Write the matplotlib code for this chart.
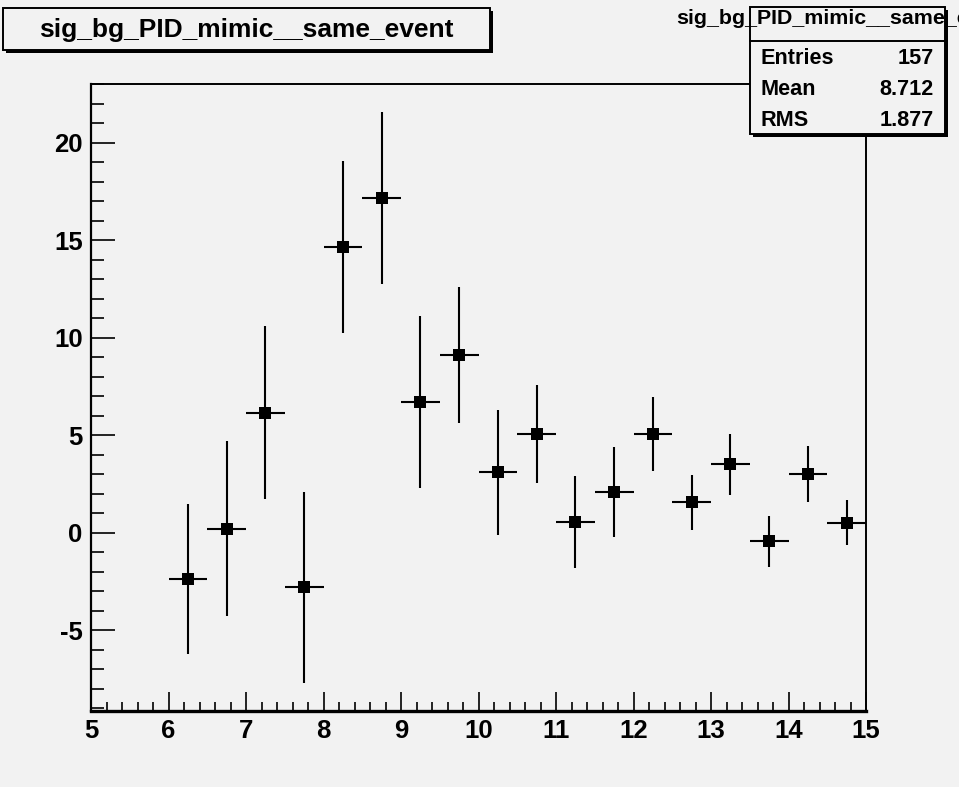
import numpy as np
import matplotlib
matplotlib.use("Agg")   # no display required
import matplotlib.pyplot as plt
from matplotlib import font_manager
from matplotlib.patches import Rectangle
from matplotlib.ticker import MultipleLocator

plt.rcParams["axes.unicode_minus"] = False

# ─────────────────────────────────────────────
# Data
# ─────────────────────────────────────────────
hist_name = "sig_bg_PID_mimic__same_event"

bin_centers = [6.25, 6.75, 7.25, 7.75, 8.25, 8.75, 9.25, 9.75, 10.25,
               10.75, 11.25, 11.75, 12.25, 12.75, 13.25, 13.75, 14.25, 14.75]
bin_half_width = [0.25] * len(bin_centers)
values = [-2.4, 0.2, 6.15, -2.8, 14.65, 17.15, 6.7, 9.1, 3.1,
          5.05, 0.53, 2.07, 5.05, 1.55, 3.5, -0.45, 3.0, 0.5]
errors = [3.85, 4.5, 4.45, 4.9, 4.4, 4.4, 4.4, 3.5, 3.2,
          2.5, 2.35, 2.3, 1.9, 1.4, 1.55, 1.3, 1.45, 1.15]

stats_labels = ["Entries", "Mean", "RMS"]
stats_values = ["157", "8.712", "1.877"]

x_ticks = list(range(5, 16))
y_ticks = [-5, 0, 5, 10, 15, 20]
x_range = (5, 15)
y_range = (-9.15, 23.0)

# ─────────────────────────────────────────────
# Figure
# ─────────────────────────────────────────────
W, H, DPI = 959, 787, 100
BG = "#f2f2f2"
FONT = "Liberation Sans"

# tall, narrow digits on the axes: use the narrow cut when it is there
try:
    font_manager.findfont(font_manager.FontProperties(family="Liberation Sans Narrow",
                                                      weight="bold"),
                          fallback_to_default=False)
    TICK_FONT, TICK_SIZE = "Liberation Sans Narrow", 20.5
except Exception:
    TICK_FONT, TICK_SIZE = FONT, 18.5


def fx(px):
    return px / W


def fy(py):
    return 1 - py / H


def box(fig, left, top, right, bottom, shadow=3):
    """ROOT-style pave: black drop shadow + light box with black border."""
    fig.add_artist(Rectangle((fx(left + shadow), fy(bottom + shadow)),
                             fx(right - left), (bottom - top) / H,
                             transform=fig.transFigure, facecolor="black",
                             edgecolor="none", zorder=5))
    fig.add_artist(Rectangle((fx(left), fy(bottom)),
                             fx(right - left), (bottom - top) / H,
                             transform=fig.transFigure, facecolor=BG,
                             edgecolor="black", linewidth=1.4, zorder=6))


fig = plt.figure(figsize=(W / DPI, H / DPI), dpi=DPI)
fig.patch.set_facecolor(BG)

ax = fig.add_axes([fx(91), fy(711), fx(866 - 91), (711 - 84) / H])
ax.set_facecolor(BG)

ax.errorbar(bin_centers, values, xerr=bin_half_width, yerr=errors,
            fmt="s", color="black", markersize=9.3, elinewidth=1.5,
            capsize=0, markeredgewidth=0)

ax.set_xlim(*x_range)
ax.set_ylim(*y_range)

ax.set_xticks(x_ticks)
ax.set_yticks(y_ticks)
ax.xaxis.set_minor_locator(MultipleLocator(0.2))
ax.yaxis.set_minor_locator(MultipleLocator(1))
ax.tick_params(axis="x", which="major", direction="in", length=14, width=1.2,
               pad=6, top=False)
ax.tick_params(axis="x", which="minor", direction="in", length=6.5, width=1.2,
               top=False)
ax.tick_params(axis="y", which="major", direction="in", length=17, width=1.2,
               pad=6, right=False)
ax.tick_params(axis="y", which="minor", direction="in", length=9, width=1.2,
               right=False)
for lab in ax.get_xticklabels() + ax.get_yticklabels():
    lab.set_fontfamily(TICK_FONT)
    lab.set_fontweight("bold")
    lab.set_fontsize(TICK_SIZE)

ax.spines["bottom"].set_linewidth(2.4)
ax.spines["left"].set_linewidth(1.6)
ax.spines["top"].set_linewidth(1.4)
ax.spines["right"].set_linewidth(1.4)

# title pave
box(fig, 3, 8, 490, 50)
fig.text(fx(246.5), fy(30), hist_name, ha="center", va="center",
         fontsize=19, fontweight="bold", family=FONT, zorder=7)

# stats pave (its header runs off the right edge, as in the original)
box(fig, 750, 7, 945, 134)
fig.add_artist(plt.Line2D([fx(750), fx(945)], [fy(41), fy(41)],
                          transform=fig.transFigure, color="black",
                          linewidth=1.4, zorder=7))
fig.text(fx(676), fy(19), hist_name, ha="left", va="center",
         fontsize=15.4, fontweight="bold", family=FONT, zorder=7)
for i, (lab, val) in enumerate(zip(stats_labels, stats_values)):
    yy = fy(59 + i * 30.5)
    fig.text(fx(760), yy, lab, ha="left", va="center", fontsize=15.6,
             fontweight="bold", family=FONT, zorder=7)
    fig.text(fx(934), yy, val, ha="right", va="center", fontsize=15.6,
             fontweight="bold", family=FONT, zorder=7)

fig.savefig("out.png", dpi=DPI, facecolor=fig.get_facecolor())
plt.close(fig)
